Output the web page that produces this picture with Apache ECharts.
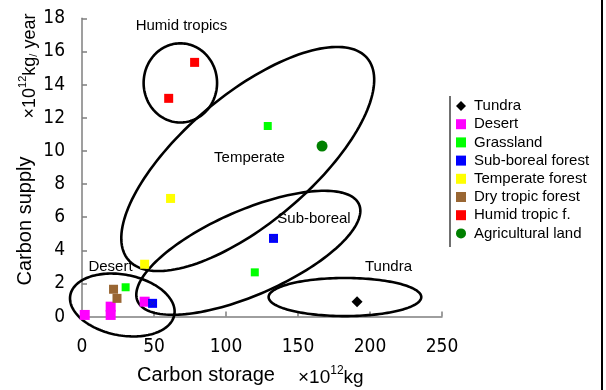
<!DOCTYPE html>
<html><head><meta charset="utf-8">
<script src="https://cdn.jsdelivr.net/npm/echarts@6/dist/echarts.min.js"></script>
<style>html,body{margin:0;padding:0;background:#fff}#c{width:606px;height:390px}</style>
</head><body><div id="c"></div>
<script>
// ---- data ----
const xTicks = [0, 50, 100, 150, 200, 250];
const yTicks = [0, 2, 4, 6, 8, 10, 12, 14, 16, 18];
const seriesNames = ['Tundra', 'Desert', 'Grassland', 'Sub-boreal forest', 'Temperate forest', 'Dry tropic forest', 'Humid tropic f.', 'Agricultural land'];
const tundra = [[191, 0.9]];
const desert = [[1.9, 0.1], [19.9, 0.1], [19.9, 0.6], [43.5, 0.9]];
const grassland = [[30.3, 1.77], [120, 2.67], [129, 11.5]];
const subBoreal = [[49, 0.8], [133, 4.72]];
const temperateForest = [[61.5, 7.13], [43.5, 3.16]];
const dryTropic = [[21.9, 1.65], [24.3, 1.1]];
const humidTropic = [[60.2, 13.17], [78.2, 15.34]];
const agricultural = [[166.7, 10.29]];
// group outlines: centre (x, y) and two conjugate semi-axis vectors, in data units
const groupNames = ['Humid tropics', 'Temperate', 'Sub-boreal', 'Desert', 'Tundra'];
const groupEllipses = [
  [68.3, 14.1, 25.5, 0, 0, 2.39],
  [115.1, 9.51, 83.0, 6.08, -28.7, 2.96],
  [115.5, 3.85, 76.9, 2.92, -11.8, 2.34],
  [28.0, 0.70, 36.1, -0.6, 4.0, 1.8],
  [182.6, 1.18, 53.0, 0, 0, 1.15]
];

const chart = echarts.init(document.getElementById('c'), null, {renderer: 'canvas'});
const tickFont = '"Liberation Sans Narrow", "DejaVu Sans Condensed", "Liberation Sans", sans-serif';
const sans = '"Liberation Sans", Arial, sans-serif';
const axisColor = '#7f7f7f';

function scatter(name, data, symbol, size, color) {
  return {name, type: 'scatter', data, symbol, symbolSize: size, itemStyle: {color, opacity: 1}, z: 3};
}

const option = {
  animation: false,
  backgroundColor: '#fff',
  grid: {left: 82, right: 164, top: 18.3, bottom: 73.4, containLabel: false},
  xAxis: {
    type: 'value', min: xTicks[0], max: xTicks[xTicks.length - 1], interval: 50,
    axisLine: {show: true, onZero: false, lineStyle: {color: axisColor, width: 1.5}},
    axisTick: {show: true, inside: true, length: 5, lineStyle: {color: axisColor, width: 1.5}},
    splitLine: {show: false},
    axisLabel: {margin: 21, color: '#000', fontSize: 19, fontFamily: tickFont}
  },
  yAxis: {
    type: 'value', min: yTicks[0], max: yTicks[yTicks.length - 1], interval: 2,
    axisLine: {show: true, onZero: false, lineStyle: {color: axisColor, width: 1.5}},
    axisTick: {show: true, inside: true, length: 5, lineStyle: {color: axisColor, width: 1.5}},
    splitLine: {show: false},
    axisLabel: {margin: 17, color: '#000', fontSize: 19, fontFamily: tickFont}
  },
  legend: {
    orient: 'vertical', left: 451, top: 93.5, itemGap: 3.2,
    itemWidth: 10, itemHeight: 10,
    data: seriesNames,
    textStyle: {fontSize: 15, fontFamily: sans, color: '#000', padding: [0, 0, 0, 3]}
  },
  graphic: [
    {type: 'line', shape: {x1: 450, y1: 96, x2: 450, y2: 247}, style: {stroke: '#404040', lineWidth: 1.5}},
    {type: 'line', shape: {x1: 602, y1: 0, x2: 602, y2: 390}, style: {stroke: '#000', lineWidth: 2}},
    {type: 'text', x: 206, y: 375, style: {text: 'Carbon storage', font: '20px ' + sans, fill: '#000', align: 'center', verticalAlign: 'middle'}},
    {type: 'text', x: 298, y: 376, style: {
      text: '{a|×10}{s|12}{a|kg}', align: 'left', verticalAlign: 'middle', fill: '#000',
      rich: {a: {font: '19px ' + sans, verticalAlign: 'bottom', lineHeight: 22}, s: {font: '12px ' + sans, verticalAlign: 'top', lineHeight: 12}}
    }},
    {type: 'text', x: 25, y: 221, rotation: Math.PI / 2, style: {text: 'Carbon supply', font: '20px ' + sans, fill: '#000', align: 'center', verticalAlign: 'middle'}},
    {type: 'text', x: 28, y: 66, rotation: Math.PI / 2, style: {
      text: '{a|×10}{s|12}{a|kg}{t|/}{a| year}', align: 'center', verticalAlign: 'middle', fill: '#000',
      rich: {a: {font: '18px ' + sans, verticalAlign: 'bottom', lineHeight: 22}, s: {font: '11px ' + sans, verticalAlign: 'top', lineHeight: 12}, t: {font: '11px ' + sans, verticalAlign: 'bottom', lineHeight: 12}}
    }},
    {type: 'text', x: 181.5, y: 26, style: {text: groupNames[0], font: '15px ' + sans, fill: '#000', align: 'center', verticalAlign: 'middle'}},
    {type: 'text', x: 249.5, y: 158, style: {text: groupNames[1], font: '15px ' + sans, fill: '#000', align: 'center', verticalAlign: 'middle'}},
    {type: 'text', x: 314, y: 219, style: {text: groupNames[2], font: '15px ' + sans, fill: '#000', align: 'center', verticalAlign: 'middle'}},
    {type: 'text', x: 110.5, y: 267, style: {text: groupNames[3], font: '15px ' + sans, fill: '#000', align: 'center', verticalAlign: 'middle'}},
    {type: 'text', x: 388.5, y: 267, style: {text: groupNames[4], font: '15px ' + sans, fill: '#000', align: 'center', verticalAlign: 'middle'}}
  ],
  series: [
    {
      name: 'outlines', type: 'custom', silent: true, clip: false, z: 2,
      dimensions: ['cx', 'cy', 'ux', 'uy', 'vx', 'vy'],
      encode: {x: 0, y: 1},
      data: groupEllipses,
      renderItem: function (params, api) {
        const cx = api.value(0), cy = api.value(1), ux = api.value(2), uy = api.value(3), vx = api.value(4), vy = api.value(5);
        const pts = [];
        const n = 160;
        for (let i = 0; i < n; i++) {
          const t = i / n * Math.PI * 2;
          pts.push(api.coord([cx + Math.cos(t) * ux + Math.sin(t) * vx, cy + Math.cos(t) * uy + Math.sin(t) * vy]));
        }
        return {type: 'polygon', shape: {points: pts}, style: {fill: 'none', stroke: '#000', lineWidth: 2.6}};
      }
    },
    scatter(seriesNames[0], tundra, 'diamond', 11, '#000000'),
    scatter(seriesNames[1], desert, 'rect', 10, '#FF00FF'),
    scatter(seriesNames[2], grassland, 'rect', 8, '#00FF00'),
    scatter(seriesNames[3], subBoreal, 'rect', 9, '#0000FF'),
    scatter(seriesNames[4], temperateForest, 'rect', 9, '#FFFF00'),
    scatter(seriesNames[5], dryTropic, 'rect', 9, '#996633'),
    scatter(seriesNames[6], humidTropic, 'rect', 9, '#FF0000'),
    scatter(seriesNames[7], agricultural, 'circle', 11, '#008000'),
    {
      name: 'subBorealMark', type: 'scatter', data: subBoreal, silent: true, z: 4,
      symbol: 'path://M0,0L10,10M10,0L0,10', symbolSize: 5,
      itemStyle: {color: 'none', borderColor: '#2020a0', borderWidth: 1}
    }
  ]
};
chart.setOption(option);
</script>
</body></html>
